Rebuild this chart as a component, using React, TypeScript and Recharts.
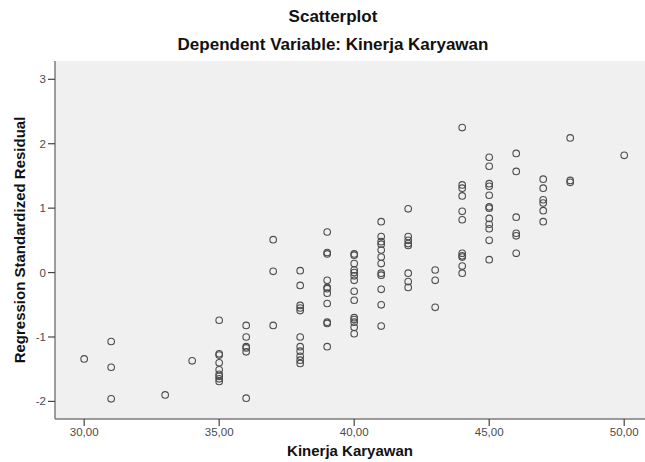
import React from 'react';
import { ScatterChart, Scatter, XAxis, YAxis, CartesianGrid } from 'recharts';

// Kinerja Karyawan scores (x) and the standardized residuals seen in each column
const scores = [30, 31, 33, 34, 35, 36, 37, 38, 39, 40, 41, 42, 43, 44, 45, 46, 47, 48, 50];
const residualsByScore = [
  [-1.34],
  [-1.07, -1.47, -1.96],
  [-1.9],
  [-1.37],
  [-0.74, -1.26, -1.28, -1.4, -1.51, -1.58, -1.61, -1.65, -1.69],
  [-0.82, -1.0, -1.15, -1.17, -1.23, -1.95],
  [0.51, 0.02, -0.82],
  [0.03, -0.2, -0.51, -0.55, -0.59, -1.0, -1.15, -1.22, -1.3, -1.36, -1.41],
  [0.63, 0.31, 0.29, -0.12, -0.23, -0.25, -0.32, -0.48, -0.77, -0.79, -1.15],
  [0.29, 0.27, 0.14, 0.04, 0.0, -0.05, -0.12, -0.29, -0.43, -0.7, -0.73, -0.77, -0.85, -0.95],
  [0.79, 0.56, 0.48, 0.44, 0.35, 0.24, 0.14, -0.01, -0.04, -0.26, -0.5, -0.83],
  [0.99, 0.56, 0.5, 0.45, 0.42, -0.01, -0.14, -0.23],
  [0.04, -0.12, -0.54],
  [2.25, 1.36, 1.31, 1.19, 0.95, 0.82, 0.3, 0.26, 0.24, 0.1, -0.01],
  [1.79, 1.65, 1.38, 1.34, 1.2, 1.02, 1.0, 0.84, 0.75, 0.68, 0.5, 0.2],
  [1.85, 1.57, 0.86, 0.61, 0.57, 0.3],
  [1.45, 1.31, 1.13, 1.08, 0.96, 0.79],
  [2.09, 1.43, 1.4],
  [1.82],
];
const xTicks = [30, 35, 40, 45, 50];
const yTicks = [-2, -1, 0, 1, 2, 3];

const points = scores.flatMap((s, i) => residualsByScore[i].map((r) => ({ x: s, y: r })));

const FONT = '"Liberation Sans", Arial, sans-serif';
const frame = { stroke: '#7d7d7d', strokeWidth: 1.5 };
const tickLine = { stroke: '#444', strokeWidth: 1.2 };
const tickStyle = { fill: '#4a4a4a', fontSize: 11.5, fontFamily: FONT };

const Ring = (props: any) => (
  <circle cx={props.cx} cy={props.cy} r={3.3} fill="none" stroke="#4d4d4d" strokeWidth={1.1} />
);

const textStyle: React.CSSProperties = {
  position: 'absolute',
  fontFamily: FONT,
  fontWeight: 'bold',
  color: '#111',
  whiteSpace: 'nowrap',
  lineHeight: '20px',
};

export default function App() {
  return (
    <div style={{ position: 'relative', width: 645, height: 462, background: '#fff', overflow: 'hidden' }}>
      <style>{'body{margin:0}'}</style>
      <ScatterChart width={645} height={462} margin={{ top: 61, right: 0, bottom: 0, left: 0 }}>
        <CartesianGrid fill="#f0f0f0" horizontal={false} vertical={false} />
        <XAxis
          dataKey="x"
          type="number"
          domain={[28.92, 50.77]}
          allowDataOverflow
          ticks={xTicks}
          tickFormatter={(v: number) => v.toFixed(2).replace('.', ',')}
          height={43}
          tickSize={7}
          axisLine={frame}
          tickLine={tickLine}
          tick={tickStyle}
        />
        <XAxis xAxisId="top" orientation="top" type="number" domain={[0, 1]} height={0} tick={false} tickLine={false} axisLine={frame} />
        <YAxis
          dataKey="y"
          type="number"
          domain={[-2.273, 3.284]}
          allowDataOverflow
          ticks={yTicks}
          width={55}
          tickSize={7}
          axisLine={frame}
          tickLine={tickLine}
          tick={tickStyle}
        />
        <Scatter data={points} shape={Ring} isAnimationActive={false} />
      </ScatterChart>
      <div style={{ ...textStyle, left: 0, width: 666, textAlign: 'center', top: 7, fontSize: 17 }}>Scatterplot</div>
      <div style={{ ...textStyle, left: 0, width: 666, textAlign: 'center', top: 35, fontSize: 17 }}>
        Dependent Variable: Kinerja Karyawan
      </div>
      <div style={{ ...textStyle, left: 55, width: 590, textAlign: 'center', top: 441, fontSize: 15 }}>Kinerja Karyawan</div>
      <div
        style={{
          ...textStyle,
          fontSize: 15,
          left: 20,
          top: 240,
          transform: 'translate(-50%, -50%) rotate(-90deg)',
        }}
      >
        Regression Standardized Residual
      </div>
    </div>
  );
}
